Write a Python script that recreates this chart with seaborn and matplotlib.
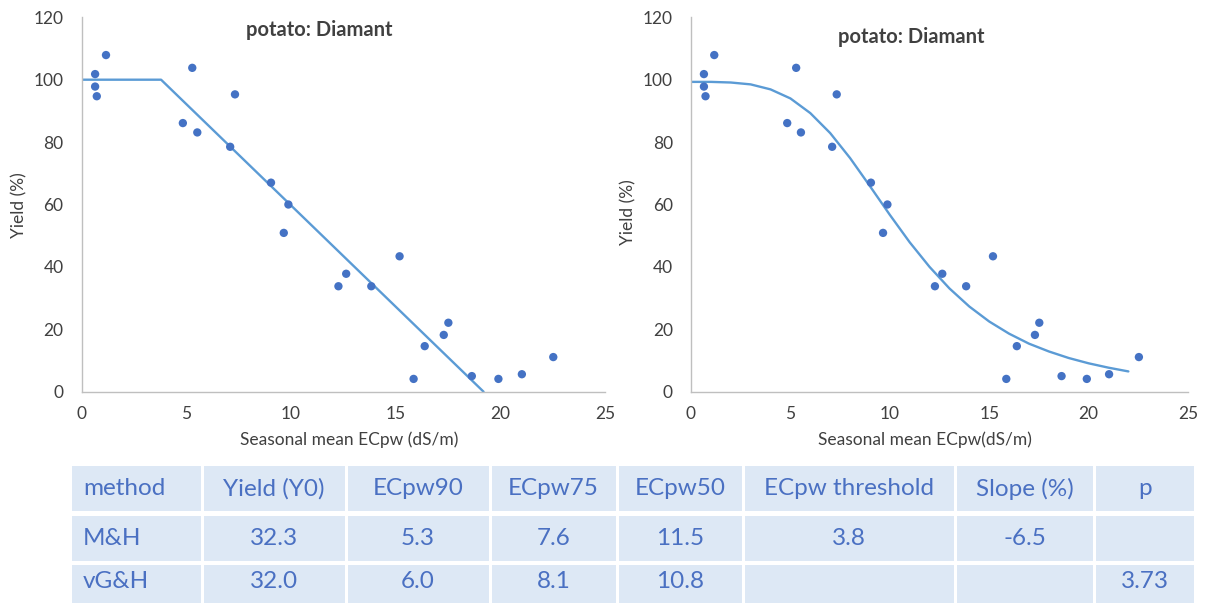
import matplotlib
matplotlib.use("Agg")
import matplotlib.pyplot as plt
import seaborn as sns
import pandas as pd
from matplotlib.patches import Rectangle

# ---------------- data ----------------
ec = [0.65, 0.65, 0.73, 1.17, 4.84, 5.29, 5.53, 7.10, 7.33, 9.05, 9.66, 9.88,
      12.27, 12.64, 13.84, 15.19, 15.86, 16.39, 17.30, 17.52, 18.64, 19.91, 21.03, 22.53]
yld = [101.8, 97.8, 94.7, 107.9, 86.1, 103.8, 83.1, 78.5, 95.3, 67.0, 50.9, 60.0,
       33.8, 37.8, 33.8, 43.4, 4.1, 14.6, 18.2, 22.1, 5.0, 4.1, 5.6, 11.1]

# Maas & Hoffman piecewise fit (threshold 3.8, slope -6.5 %)
mh_x = [0.0, 3.8, 19.2]
mh_y = [100.0, 100.0, 0.0]

# van Genuchten & Hoffman fit
vg_x = [0, 1, 2, 3, 4, 5, 6, 7, 8, 9, 10, 11, 12, 13, 14, 15, 16, 17, 18, 19, 20, 21, 22]
vg_y = [99.3, 99.3, 99.1, 98.5, 96.9, 94.0, 89.3, 82.9, 74.9, 65.9, 56.7, 47.9,
        40.0, 33.1, 27.3, 22.5, 18.6, 15.4, 12.9, 10.8, 9.1, 7.7, 6.5]

title = "potato: Diamant"
xlabels = ["Seasonal mean ECpw (dS/m)", "Seasonal mean ECpw(dS/m)"]
ylabel = "Yield (%)"
xticks = [0, 5, 10, 15, 20, 25]
yticks = [0, 20, 40, 60, 80, 100, 120]

table_header = ["method", "Yield (Y0)", "ECpw90", "ECpw75", "ECpw50",
                "ECpw threshold", "Slope (%)", "p"]
table_rows = [
    ["M&H", "32.3", "5.3", "7.6", "11.5", "3.8", "-6.5", ""],
    ["vG&H", "32.0", "6.0", "8.1", "10.8", "", "", "3.73"],
]

# ---------------- style ----------------
sns.set_theme(style="white")
plt.rcParams["font.family"] = ["Lato", "DejaVu Sans"]

DOT = "#4472c4"
LINE = "#5b9bd5"
TXT = "#404040"
SPINE = "#bfbfbf"
CELL = "#dde8f5"
CELLTXT = "#4a70c2"

W, H = 1208, 603
fig = plt.figure(figsize=(W / 100, H / 100), dpi=100)
fig.patch.set_facecolor("white")


def px_axes(x0, x1, ytop, ybot):
    return fig.add_axes([x0 / W, 1 - ybot / H, (x1 - x0) / W, (ybot - ytop) / H])


ax1 = px_axes(81.5, 605, 17.3, 391.7)
ax2 = px_axes(691, 1188, 17.3, 391.7)

df = pd.DataFrame({"ec": ec, "yld": yld})
mh = pd.DataFrame({"x": mh_x, "y": mh_y})
vg = pd.DataFrame({"x": vg_x, "y": vg_y})

for ax, fit in ((ax1, mh), (ax2, vg)):
    sns.lineplot(data=fit, x="x", y="y", ax=ax, color=LINE, lw=1.7, sort=False,
                 zorder=2)
    sns.scatterplot(data=df, x="ec", y="yld", ax=ax, color=DOT, s=36,
                    edgecolor="none", zorder=3)
    ax.set_xlim(0, 25)
    ax.set_ylim(0, 120)
    ax.set_xticks(xticks)
    ax.set_yticks(yticks)
    ax.set_xlabel("")
    ax.set_ylabel("")
    for s in ("top", "right"):
        ax.spines[s].set_visible(False)
    for s in ("left", "bottom"):
        ax.spines[s].set_color(SPINE)
        ax.spines[s].set_linewidth(1.0)
    ax.tick_params(axis="both", length=0, labelsize=12.5, colors=TXT)
    ax.tick_params(axis="y", pad=13)
    ax.tick_params(axis="x", pad=10)
    ax.set_facecolor("white")

# titles
fig.text(319 / W, 1 - 30 / H, title, ha="center", va="center", fontsize=14.5,
         fontweight="bold", color=TXT)
fig.text(911 / W, 1 - 37 / H, title, ha="center", va="center", fontsize=14.5,
         fontweight="bold", color=TXT)
# axis labels
fig.text(349 / W, 1 - 440 / H, xlabels[0], ha="center", va="center", fontsize=12.5,
         color=TXT)
fig.text(925 / W, 1 - 440 / H, xlabels[1], ha="center", va="center", fontsize=12.5,
         color=TXT)
fig.text(19 / W, 1 - 205 / H, ylabel, ha="center", va="center", fontsize=12.5,
         color=TXT, rotation=90)
fig.text(628 / W, 1 - 212 / H, ylabel, ha="center", va="center", fontsize=12.5,
         color=TXT, rotation=90)

# ---------------- table ----------------
tax = fig.add_axes([0, 0, 1, 1])
tax.set_xlim(0, W)
tax.set_ylim(H, 0)
tax.axis("off")

col_edges = [72, 202, 346, 490, 617, 743, 955, 1094, 1194]
row_edges = [(466, 511), (516, 561), (565, 603)]
gap = 1.5
rows = [table_header] + table_rows
for r, (yt, yb) in enumerate(row_edges):
    for c in range(len(col_edges) - 1):
        x0 = col_edges[c] + (gap if c > 0 else 0)
        x1 = col_edges[c + 1] - (gap if c < len(col_edges) - 2 else 0)
        tax.add_patch(Rectangle((x0, yt), x1 - x0, yb - yt, facecolor=CELL,
                                edgecolor="none"))
        txt = rows[r][c]
        if not txt:
            continue
        yc = (yt + yb) / 2 if r < 2 else 582
        if c == 0:
            tax.text(x0 + 11, yc, txt, ha="left", va="center",
                     fontsize=17.5, color=CELLTXT)
        else:
            tax.text((x0 + x1) / 2, yc, txt, ha="center",
                     va="center", fontsize=17.5, color=CELLTXT)

fig.savefig("out.png", dpi=100, facecolor="white")
